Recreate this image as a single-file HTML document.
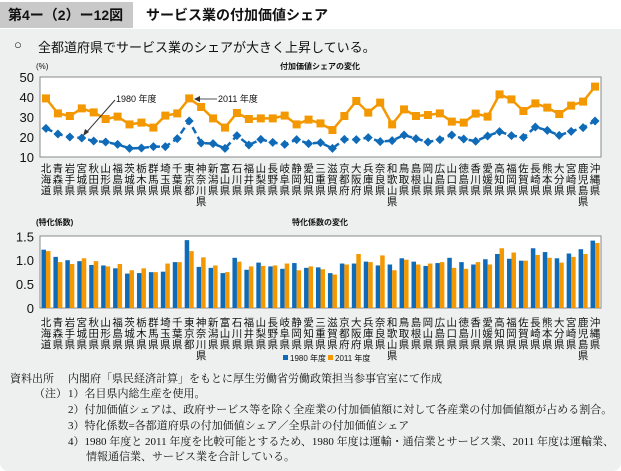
<!DOCTYPE html>
<html><head><meta charset="utf-8">
<style>
body{margin:0;background:#fff;}
#wrap{position:relative;width:621px;height:471px;background:#eeefef;border-radius:0 0 8px 8px;overflow:hidden;font-family:"Liberation Sans","Noto Sans CJK JP",sans-serif;}
svg text{font-family:"Liberation Sans","Noto Sans CJK JP",sans-serif;}
.notes{position:absolute;left:0;top:372px;font-family:"Liberation Serif","Noto Serif CJK SC",serif;font-size:11px;color:#111;line-height:15.5px;}
</style></head><body>
<div id="wrap">
<div style="position:absolute;left:0;top:0;width:621px;height:29px;background:#fff;">
 <div style="position:absolute;left:0;top:2px;width:133px;height:26px;background:#c9c9c9;font-size:14px;line-height:26px;padding-left:8px;box-sizing:border-box;font-weight:bold;color:#111;">第4ー（2）ー12図</div>
 <div style="position:absolute;left:146px;top:2px;font-size:14px;line-height:26px;font-weight:bold;color:#111;">サービス業の付加価値シェア</div>
</div>
<div style="position:absolute;left:14px;top:37px;font-size:13px;color:#111;">○</div>
<div style="position:absolute;left:38px;top:37px;font-size:13px;color:#111;">全都道府県でサービス業のシェアが大きく上昇している。</div>
<svg id="chart" width="621" height="471" style="position:absolute;left:0;top:0"></svg>
<div class="notes">
<div style="position:absolute;left:10px;top:0;white-space:nowrap">資料出所</div>
<div style="position:absolute;left:68px;top:0;white-space:nowrap">内閣府「県民経済計算」をもとに厚生労働省労働政策担当参事官室にて作成</div>
<div style="position:absolute;left:34px;top:15px;white-space:nowrap">（注）</div>
<div style="position:absolute;left:68px;top:15px;white-space:nowrap">1）名目県内総生産を使用。</div>
<div style="position:absolute;left:68px;top:31px;white-space:nowrap">2）付加価値シェアは、政府サービス等を除く全産業の付加価値額に対して各産業の付加価値額が占める割合。</div>
<div style="position:absolute;left:68px;top:47px;white-space:nowrap">3）特化係数=各都道府県の付加価値シェア／全県計の付加価値シェア</div>
<div style="position:absolute;left:68px;top:63px;white-space:nowrap">4）1980 年度と 2011 年度を比較可能とするため、1980 年度は運輸・通信業とサービス業、2011 年度は運輸業、</div>
<div style="position:absolute;left:86px;top:78px;white-space:nowrap">情報通信業、サービス業を合計している。</div>
</div>
</div>
<script>
const prefectures=["北海道","青森県","岩手県","宮城県","秋田県","山形県","福島県","茨城県","栃木県","群馬県","埼玉県","千葉県","東京都","神奈川県","新潟県","富山県","石川県","福井県","山梨県","長野県","岐阜県","静岡県","愛知県","三重県","滋賀県","京都府","大阪府","兵庫県","奈良県","和歌山県","鳥取県","島根県","岡山県","広島県","山口県","徳島県","香川県","愛媛県","高知県","福岡県","佐賀県","長崎県","熊本県","大分県","宮崎県","鹿児島県","沖縄県"];
const share1980=[24.3,21.5,20,19.5,18,17.5,16.3,14.3,14.5,15.2,15.2,19.2,28,17,16.7,14.3,20.7,16,18.8,17.3,16.3,18.7,16.7,17.2,14.3,18.8,18.7,19.7,17.7,18.2,21,19.2,17.5,18.7,21,19,17.9,20.5,22.7,20.7,19.8,25,23.3,20.8,22.8,24.7,28];
const share2011=[39.3,31.8,30.5,34.3,32.3,29,30.2,26.3,27.2,24.7,30.7,31.8,39.3,35,29.3,24.7,32,29,29.3,29.3,30.7,26.3,28.7,26.8,23.5,30.5,38,32.2,37.2,26.3,33.8,30.5,31,31.8,27.7,27.2,31.7,30.2,41.3,38.8,33,36.8,34.7,31.5,35.7,37.7,45.2];
const coef1980=[1.22,1.07,1.0,0.98,0.9,0.89,0.83,0.72,0.73,0.75,0.76,0.96,1.42,0.86,0.84,0.73,1.05,0.8,0.95,0.87,0.82,0.94,0.84,0.85,0.73,0.93,0.93,0.97,0.89,0.91,1.04,0.97,0.88,0.94,1.05,0.96,0.91,1.02,1.13,1.03,0.99,1.25,1.17,1.04,1.14,1.23,1.41];
const coef2011=[1.19,0.96,0.92,1.04,0.98,0.87,0.92,0.79,0.83,0.75,0.93,0.96,1.19,1.06,0.89,0.75,0.97,0.87,0.88,0.89,0.93,0.79,0.87,0.81,0.70,0.91,1.13,0.96,1.10,0.79,1.01,0.91,0.93,0.96,0.84,0.82,0.96,0.91,1.25,1.16,0.99,1.11,1.05,0.95,1.07,1.13,1.36];
const lineTicks=[10,20,30,40,50];
const barTicks=[0,0.5,1.0,1.5];
const barTickLabels=["0","0.5","1.0","1.5"];

const NS="http://www.w3.org/2000/svg";
const svg=document.getElementById('chart');
function mk(tag,attrs,parent){const e=document.createElementNS(NS,tag);for(const k in attrs)e.setAttribute(k,attrs[k]);(parent||svg).appendChild(e);return e;}
const X0=40,X1=601,N=prefectures.length,BW=(X1-X0)/N;
const xc=i=>X0+BW*(i+0.5);
const yL=v=>157-(v-10)*2;
const yB=v=>308-v*47.8;
const BLUE="#0f6bb8",ORANGE="#f39800";

let r=mk('rect',{x:X0,y:77,width:X1-X0,height:80,fill:'#fff',stroke:'#888','stroke-width':1});


lineTicks.forEach(t=>{const e=mk('text',{x:34,y:yL(t)+5,'text-anchor':'end','font-size':13,fill:'#111'});e.textContent=t;

});
let t=mk('text',{x:36,y:69,'font-size':8,fill:'#111'});t.textContent='(%)';


t=mk('text',{x:320,y:69,'font-size':8,'font-weight':'bold','text-anchor':'middle',fill:'#111'});t.textContent='付加価値シェアの変化';


function pts(arr){return arr.map((v,i)=>xc(i)+','+yL(v)).join(' ');}
let pl=mk('polyline',{points:pts(share2011),fill:'none',stroke:ORANGE,'stroke-width':2.5});


pl=mk('polyline',{points:pts(share1980),fill:'none',stroke:BLUE,'stroke-width':2.5,'stroke-dasharray':'7,4'});


share2011.forEach((v,i)=>{const m=mk('rect',{x:xc(i)-4,y:yL(v)-4,width:8,height:8,fill:ORANGE});

});
share1980.forEach((v,i)=>{const x=xc(i),y=yL(v);const m=mk('polygon',{points:`${x},${y-4.5} ${x+4.5},${y} ${x},${y+4.5} ${x-4.5},${y}`,fill:BLUE});

});
let a=mk('line',{x1:115,y1:100,x2:85,y2:134,stroke:'#333','stroke-width':1});


a=mk('polygon',{points:'83,136 85,129 89,132',fill:'#333'});


t=mk('text',{x:116,y:102,'font-size':9,fill:'#111'});t.textContent='1980 年度';


a=mk('line',{x1:198,y1:99,x2:217,y2:99,stroke:'#aaa','stroke-width':2});


a=mk('polygon',{points:'194,99 200,96 200,102',fill:'#333'});


t=mk('text',{x:218,y:102,'font-size':9,fill:'#111'});t.textContent='2011 年度';



function vlabels(y0,name){prefectures.forEach((p,i)=>{const e=mk('text',{x:xc(i),y:y0,'text-anchor':'middle','font-size':10.5,fill:'#111'});


[...p].forEach((c,k)=>{const s=mk('tspan',{x:xc(i),y:y0+k*11},e);s.textContent=c;});});}
vlabels(172,'line-x-label');

r=mk('rect',{x:X0,y:236,width:X1-X0,height:72,fill:'#fff',stroke:'#888','stroke-width':1});


barTicks.forEach((v,k)=>{const e=mk('text',{x:34,y:yB(v)+5,'text-anchor':'end','font-size':13,fill:'#111'});e.textContent=barTickLabels[k];

});
t=mk('text',{x:36,y:225,'font-size':8,'font-weight':'bold',fill:'#111'});t.textContent='(特化係数)';


t=mk('text',{x:320,y:225,'font-size':8,'font-weight':'bold','text-anchor':'middle',fill:'#111'});t.textContent='特化係数の変化';


coef1980.forEach((v,i)=>{const b=mk('rect',{x:xc(i)-4.5,y:yB(v),width:4.5,height:308-yB(v),fill:BLUE});

});
coef2011.forEach((v,i)=>{const b=mk('rect',{x:xc(i),y:yB(v),width:4.5,height:308-yB(v),fill:ORANGE});

});
vlabels(326,'bar-x-label');
let l=mk('rect',{x:283,y:355,width:5,height:5,fill:BLUE});


t=mk('text',{x:290,y:361,'font-size':8,fill:'#111'});t.textContent='1980 年度';


l=mk('rect',{x:328,y:355,width:5,height:5,fill:ORANGE});


t=mk('text',{x:335,y:361,'font-size':8,fill:'#111'});t.textContent='2011 年度';


</script>
</body></html>
